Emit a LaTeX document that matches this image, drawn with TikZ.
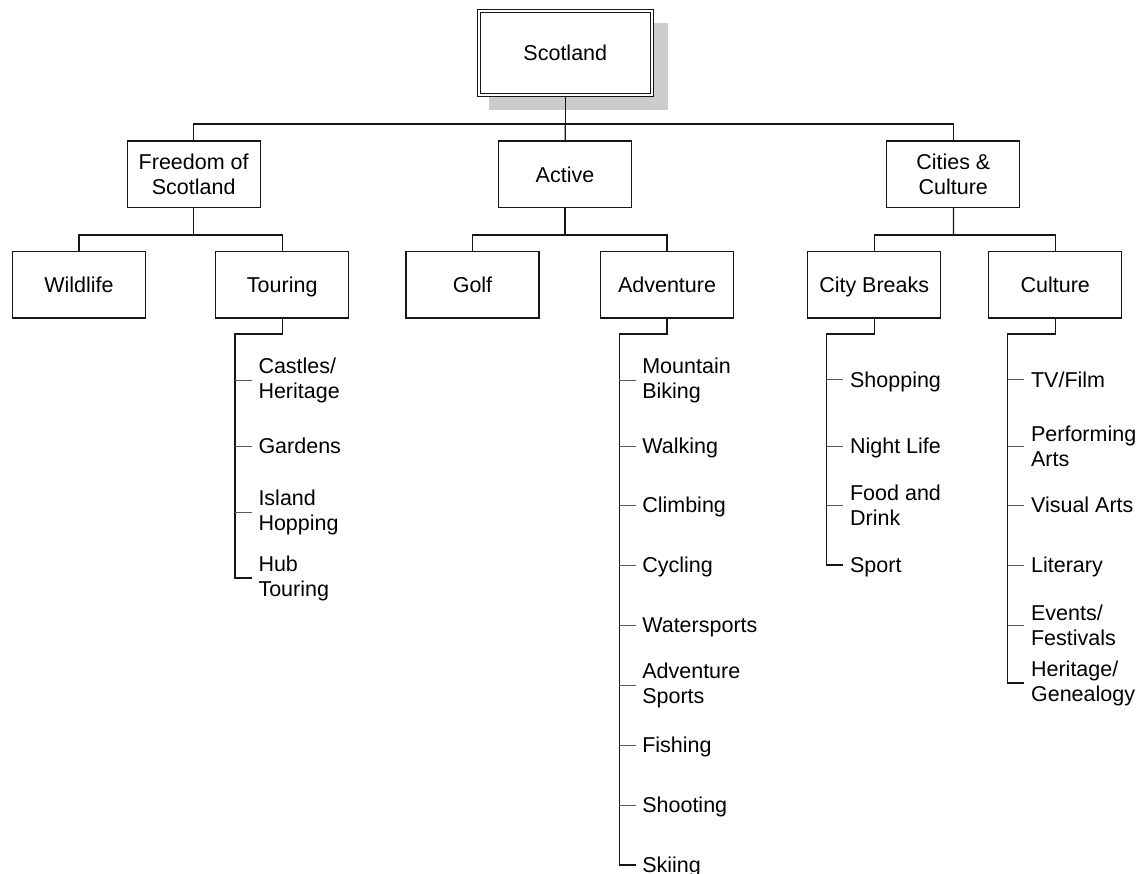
\documentclass[tikz,border=0pt]{standalone}
\usepackage{fontspec}
\setmainfont{Liberation Sans}
\usepackage{tikz}
\usetikzlibrary{positioning,shadows}
\definecolor{scotink}{HTML}{161616}
\definecolor{scotshade}{HTML}{CCCCCC}
\definecolor{scottick}{HTML}{5A5A5A}

\begin{document}
\begin{tikzpicture}[
  x=1pt, y=-1pt,
  font=\fontsize{21.5pt}{25pt}\selectfont,
  box/.style={draw=scotink, line width=1.2pt, fill=white, align=center, inner sep=0pt, minimum width=133pt, minimum height=66.5pt},
  onebox/.style={box, text height=15.4pt, text depth=0pt},
  rootbox/.style={onebox, double=white, double distance=2pt, line width=1pt, minimum width=173pt, minimum height=84pt},
  item/.style={anchor=west, inner xsep=6.6pt, inner ysep=0pt, text height=15.4pt, text depth=0pt},
  itemtwo/.style={anchor=west, align=left, inner xsep=6.6pt, inner ysep=0pt},
  conn/.style={draw=scotink, line width=1.2pt},
  tick/.style={draw=scottick, line width=1pt}
]
\useasboundingbox (0,0) rectangle (1146,873);

% top of the tree
\node[rootbox, drop shadow={shadow xshift=12.7pt, shadow yshift=-12.9pt, shadow scale=1.04, fill=scotshade, opacity=1}] (scotland) at (565.3,53) {Scotland};

\node[box] (freedom) at (193.7,174.3) {Freedom of\\Scotland};
\node[onebox] (active) at (565,174.3) {Active};
\node[box] (cities) at (953.3,174.3) {Cities \&\\Culture};

\node[onebox] (wildlife) at (79,284.7) {Wildlife};
\node[onebox] (touring) at (282.2,284.7) {Touring};
\node[onebox] (golf) at (472.5,284.7) {Golf};
\node[onebox] (adventure) at (667,284.7) {Adventure};
\node[onebox] (citybreaks) at (874.2,284.7) {City Breaks};
\node[onebox] (culture) at (1055.3,284.7) {Culture};

\coordinate (rootbus) at (565.3,124);
\coordinate (freebus) at (193.7,235);
\coordinate (actbus) at (565,235);
\coordinate (citybus) at (953.5,235);

\draw[conn] (scotland) -- (rootbus);
\draw[conn] (freedom.north) |- (rootbus) -| (cities.north);
\draw[conn] (rootbus) -- (active);
\draw[conn] (freedom) -- (freebus);
\draw[conn] (wildlife.north) |- (freebus) -| (touring.north);
\draw[conn] (active) -- (actbus);
\draw[conn] (golf.north) |- (actbus) -| (adventure.north);
\draw[conn] (cities) -- (citybus);
\draw[conn] (citybreaks.north) |- (citybus) -| (culture.north);

% touring list
\coordinate (tourspine) at (235,334);
\node[itemtwo] (castles) at (251.7,380) {Castles/\\Heritage};
\node[item] (gardens) at (251.7,446) {Gardens};
\node[itemtwo] (island) at (251.7,512) {Island\\Hopping};
\node[itemtwo] (hub) at (251.7,578) {Hub\\Touring};
\draw[conn] (touring.south) |- (tourspine) |- (hub.west);
\draw[tick] (tourspine |- castles.west) -- (castles.west);
\draw[tick] (tourspine |- gardens.west) -- (gardens.west);
\draw[tick] (tourspine |- island.west) -- (island.west);

% adventure list
\coordinate (advspine) at (619.3,334);
\node[itemtwo] (biking) at (635.5,380) {Mountain\\Biking};
\node[item] (walking) at (635.5,446) {Walking};
\node[item] (climbing) at (635.5,505) {Climbing};
\node[item] (cycling) at (635.5,565) {Cycling};
\node[item] (water) at (635.5,625) {Watersports};
\node[itemtwo] (advsports) at (635.5,685) {Adventure\\Sports};
\node[item] (fishing) at (635.5,745) {Fishing};
\node[item] (shooting) at (635.5,805) {Shooting};
\node[item] (skiing) at (635.5,865) {Skiing};
\draw[conn] (adventure.south) |- (advspine) |- (skiing.west);
\draw[tick] (advspine |- biking.west) -- (biking.west);
\draw[tick] (advspine |- walking.west) -- (walking.west);
\draw[tick] (advspine |- climbing.west) -- (climbing.west);
\draw[tick] (advspine |- cycling.west) -- (cycling.west);
\draw[tick] (advspine |- water.west) -- (water.west);
\draw[tick] (advspine |- advsports.west) -- (advsports.west);
\draw[tick] (advspine |- fishing.west) -- (fishing.west);
\draw[tick] (advspine |- shooting.west) -- (shooting.west);

% city breaks list
\coordinate (cityspine) at (826.7,334);
\node[item] (shopping) at (843.3,379.5) {Shopping};
\node[item] (nightlife) at (843.3,446) {Night Life};
\node[itemtwo] (food) at (843.3,505) {Food and\\Drink};
\node[item] (sport) at (843.3,565) {Sport};
\draw[conn] (citybreaks.south) |- (cityspine) |- (sport.west);
\draw[tick] (cityspine |- shopping.west) -- (shopping.west);
\draw[tick] (cityspine |- nightlife.west) -- (nightlife.west);
\draw[tick] (cityspine |- food.west) -- (food.west);

% culture list
\coordinate (cultspine) at (1007.7,334);
\node[item] (tvfilm) at (1024.3,379.5) {TV/Film};
\node[itemtwo] (performing) at (1024.3,446) {Performing\\Arts};
\node[item] (visual) at (1024.3,505) {Visual Arts};
\node[item] (literary) at (1024.3,565) {Literary};
\node[itemtwo] (events) at (1024.3,625) {Events/\\Festivals};
\node[itemtwo] (genealogy) at (1024.3,683) {Heritage/\\Genealogy};
\draw[conn] (culture.south) |- (cultspine) |- (genealogy.west);
\draw[tick] (cultspine |- tvfilm.west) -- (tvfilm.west);
\draw[tick] (cultspine |- performing.west) -- (performing.west);
\draw[tick] (cultspine |- visual.west) -- (visual.west);
\draw[tick] (cultspine |- literary.west) -- (literary.west);
\draw[tick] (cultspine |- events.west) -- (events.west);
\end{tikzpicture}
\end{document}
